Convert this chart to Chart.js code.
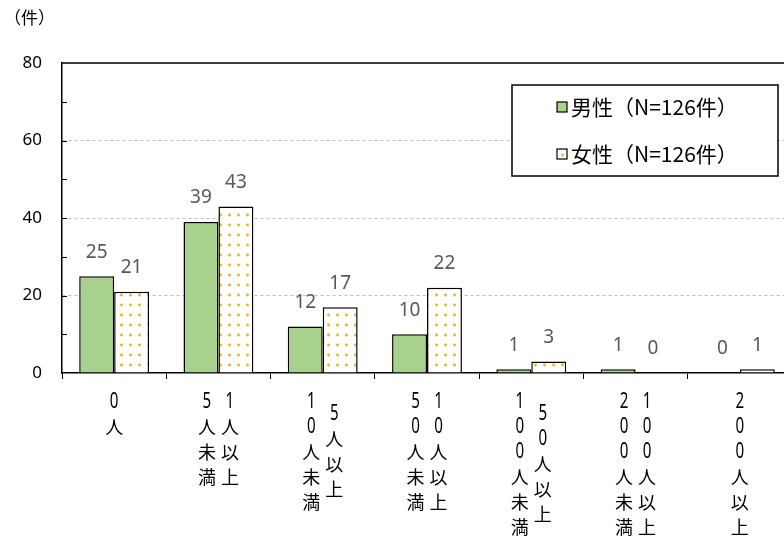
<!DOCTYPE html>
<html>
<head>
<meta charset="utf-8">
<script src="https://cdn.jsdelivr.net/npm/chart.js@4/dist/chart.umd.min.js"></script>
<style>
  html, body { margin: 0; padding: 0; background: #fff; overflow: hidden; }
  #wrap { width: 784px; height: 540px; overflow: hidden; }
</style>
</head>
<body>
<div id="wrap"><canvas id="graph-canvas" width="800" height="540"></canvas></div>
<script>
const categories = ['0人', '1人以上5人未満', '5人以上10人未満', '10人以上50人未満', '50人以上100人未満', '100人以上200人未満', '200人以上'];
// vertical label columns, right column first (read right to left)
const labelColumns = [['0人'], ['1人以上', '5人未満'], ['5人以上', '10人未満'], ['10人以上', '50人未満'], ['50人以上', '100人未満'], ['100人以上', '200人未満'], ['200人以上']];
const maleValues = [25, 39, 12, 10, 1, 1, 0];
const femaleValues = [21, 43, 17, 22, 3, 0, 1];
const seriesNames = ['男性（N=126件）', '女性（N=126件）'];
const yTicks = [0, 20, 40, 60, 80];

const cjk = '"Noto Sans CJK JP", "Noto Sans", sans-serif';

function dotPattern() {
    const c = document.createElement('canvas');
    c.width = 9;
    c.height = 10;
    const g = c.getContext('2d');
    g.fillStyle = '#ffffff';
    g.fillRect(0, 0, 9, 10);
    g.fillStyle = '#e9b01e';
    g.beginPath();
    g.arc(4.5, 5, 1.4, 0, Math.PI * 2);
    g.fill();
    return g.createPattern(c, 'repeat');
}

const femaleFill = dotPattern();

const extras = {
    id: 'extras',
    afterDraw(chart) {
        const ctx = chart.ctx;
        const area = chart.chartArea;
        const x = chart.scales.x;
        const y = chart.scales.y;
        ctx.save();

        // top and right frame
        ctx.strokeStyle = '#000';
        ctx.lineWidth = 1.5;
        ctx.beginPath();
        ctx.moveTo(area.left, area.top);
        ctx.lineTo(area.right, area.top);
        ctx.lineTo(area.right, area.bottom);
        ctx.stroke();

        // small inner ticks on y axis
        ctx.lineWidth = 1;
        for (let v = 10; v < 80; v += 10) {
            const py = Math.round(y.getPixelForValue(v)) + 0.5;
            ctx.beginPath();
            ctx.moveTo(area.left, py);
            ctx.lineTo(area.left + 5, py);
            ctx.stroke();
        }

        // unit label
        ctx.fillStyle = '#000';
        ctx.font = '17px ' + cjk;
        ctx.textAlign = 'left';
        ctx.textBaseline = 'middle';
        ctx.fillText('（件）', 4, 18);

        // vertical category labels
        ctx.textAlign = 'center';
        labelColumns.forEach((cols, i) => {
            const cx = x.getPixelForValue(i);
            const maxLen = Math.max(...cols.map(s => [...s].length));
            cols.forEach((col, k) => {
                const colX = cols.length === 1 ? cx : cx + (k === 0 ? 11.5 : -11.5);
                const chars = [...col];
                const startY = 402 + (maxLen - chars.length) * 12.5;
                chars.forEach((ch, r) => {
                    const py = startY + r * 25;
                    if (/[0-9]/.test(ch)) {
                        ctx.save();
                        ctx.translate(colX, py);
                        ctx.scale(0.72, 1);
                        ctx.font = '21px "Noto Sans", sans-serif';
                        ctx.fillText(ch, 0, 0);
                        ctx.restore();
                    } else {
                        ctx.font = '18px ' + cjk;
                        ctx.fillText(ch, colX, py);
                    }
                });
            });
        });

        // value labels
        ctx.fillStyle = '#595959';
        ctx.font = '19px "Noto Sans", sans-serif';
        chart.data.datasets.forEach((ds, di) => {
            chart.getDatasetMeta(di).data.forEach((bar, i) => {
                ctx.fillText(String(ds.data[i]), bar.x, bar.y - 24);
            });
        });

        // legend box
        ctx.strokeStyle = '#000';
        ctx.lineWidth = 1.5;
        ctx.fillStyle = '#fff';
        ctx.fillRect(512, 85, 266, 91);
        ctx.strokeRect(512, 85, 266, 91);
        ctx.font = '21px ' + cjk;
        ctx.textAlign = 'left';
        chart.data.datasets.forEach((ds, di) => {
            const cy = 107 + di * 47;
            ctx.fillStyle = ds.backgroundColor;
            ctx.fillRect(557, cy - 5, 10, 10);
            ctx.lineWidth = 1.2;
            ctx.strokeStyle = '#000';
            ctx.strokeRect(557, cy - 5, 10, 10);
            ctx.fillStyle = '#000';
            ctx.fillText(ds.label, 571, cy);
        });

        ctx.restore();
    }
};

const ctx = document.getElementById('graph-canvas').getContext('2d');

new Chart(ctx, {
    type: 'bar',
    data: {
        labels: categories,
        datasets: [{
            label: seriesNames[0],
            data: maleValues,
            backgroundColor: '#a9d18e',
            borderColor: '#000',
            borderWidth: c => (c.raw === 0 ? 0 : 1.5),
            categoryPercentage: 0.67,
            barPercentage: 1.0
        }, {
            label: seriesNames[1],
            data: femaleValues,
            backgroundColor: femaleFill,
            borderColor: '#000',
            borderWidth: c => (c.raw === 0 ? 0 : 1.5),
            categoryPercentage: 0.67,
            barPercentage: 1.0
        }]
    },
    options: {
        responsive: false,
        animation: false,
        devicePixelRatio: 1,
        layout: { padding: { top: 63, right: 8, left: 0, bottom: 0 } },
        plugins: {
            legend: { display: false },
            tooltip: { enabled: false }
        },
        scales: {
            x: {
                ticks: { display: false },
                grid: { display: true, drawOnChartArea: false, drawTicks: true, tickLength: 6, color: '#000', offset: true },
                border: { display: true, color: '#000', width: 1.5 },
                afterFit: s => { s.height = 167; }
            },
            y: {
                min: 0,
                max: 80,
                afterBuildTicks: s => { s.ticks = yTicks.map(v => ({ value: v })); },
                ticks: {
                    color: '#000',
                    font: { family: '"Noto Sans", sans-serif', size: 17 },
                    padding: 20
                },
                grid: {
                    drawTicks: false,
                    color: c => (c.tick && (c.tick.value === 0 || c.tick.value === 80) ? 'rgba(0,0,0,0)' : '#bfbfbf')
                },
                border: { display: true, color: '#000', width: 1.5, dash: [3, 3] },
                afterFit: s => { s.width = 62; }
            }
        }
    },
    plugins: [extras]
});
</script>
</body>
</html>
